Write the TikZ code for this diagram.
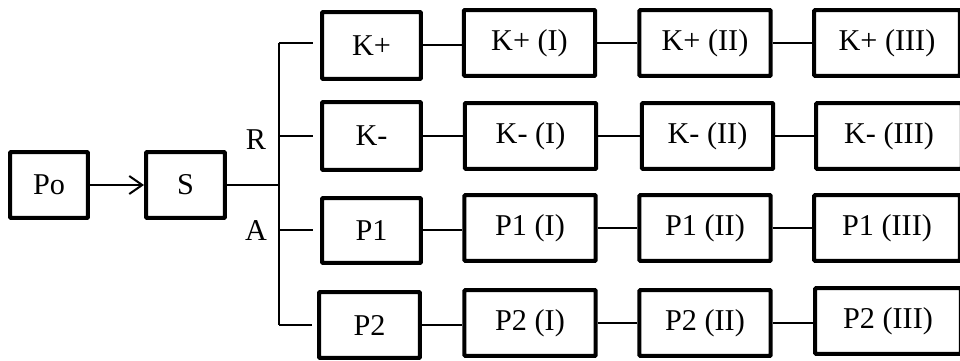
\documentclass[tikz,border=0pt]{standalone}
\usepackage{fontspec}
\setmainfont{Liberation Serif}
\usetikzlibrary{arrows.meta}
\begin{document}
\begin{tikzpicture}[x=0.02cm,y=-0.02cm,
  box/.style={draw=black,line width=0.08cm,rounded corners=0.6pt,inner sep=0pt,
    minimum height=1.32cm,font=\fontsize{17.2}{20}\selectfont},
  cA/.style={box,minimum width=1.98cm},
  cB/.style={box,minimum width=2.63cm},
  cC/.style={box,minimum width=2.92cm},
  conn/.style={line width=0.04cm},
  lab/.style={font=\fontsize{17.2}{20}\selectfont,inner sep=0pt}]
\useasboundingbox (0,0) rectangle (960,361);
\clip (0,0) rectangle (960,361);
\fill[white] (0,0) rectangle (960,361);
% first column
\node[box,minimum width=1.56cm] (po) at (49,185) {Po};
\node[box,minimum width=1.58cm] (s) at (185.5,185) {S};
% branch boxes
\node[cA,minimum height=1.34cm] (kp) at (371.5,45.5) {K+};
\node[cA,minimum height=1.36cm] (km) at (371.5,136) {K-};
\node[cA,minimum height=1.30cm] (p1) at (371.5,230.5) {P1};
\node[box,minimum width=2.02cm] (p2) at (369.5,325) {P2};
% row K+
\node[cB] (kp1) at (529.5,43) {K+ (I)};
\node[cB] (kp2) at (705,43) {K+ (II)};
\node[cC] (kp3) at (887,43) {K+ (III)};
% row K-
\node[cB] (km1) at (530.5,136) {K- (I)};
\node[cB] (km2) at (707.5,136) {K- (II)};
\node[cC] (km3) at (889,136) {K- (III)};
% row P1
\node[cB] (p11) at (530,228) {P1 (I)};
\node[cB] (p12) at (705,228) {P1 (II)};
\node[cC] (p13) at (887,228) {P1 (III)};
% row P2
\node[cB] (p21) at (530,323) {P2 (I)};
\node[cB] (p22) at (705,323) {P2 (II)};
\node[cC] (p23) at (888,321) {P2 (III)};
% labels
\node[lab] (r) at (256,140) {R};
\node[lab] (a) at (256,231) {A};
% arrow
\draw[conn,-{Straight Barb[length=0.26cm,width=0.36cm,line width=0.04cm]}] (po.east) -- (s.west);
% trunk
\draw[conn] (s.east) -- ++(52,0) coordinate (j);
\coordinate (jt) at (j |- 0,43);
\coordinate (jb) at (j |- 0,325);
\draw[conn] (jt) -- (jb);
\draw[conn,shorten >=0.14cm] (jt) -- (kp.west |- jt);
\draw[conn,shorten >=0.14cm] (j |- km.west) -- (km.west);
\draw[conn,shorten >=0.14cm] (j |- p1.west) -- (p1.west);
\draw[conn,shorten >=0.1cm] (jb) -- (p2.west |- jb);
% row connectors
\foreach \a/\b in {kp/kp1,kp1/kp2,kp2/kp3,km/km1,km1/km2,km2/km3,p1/p11,p11/p12,p12/p13,p2/p21,p21/p22,p22/p23}
  \draw[conn] (\a.east) -- (\a.east -| \b.west);
\end{tikzpicture}
\end{document}
